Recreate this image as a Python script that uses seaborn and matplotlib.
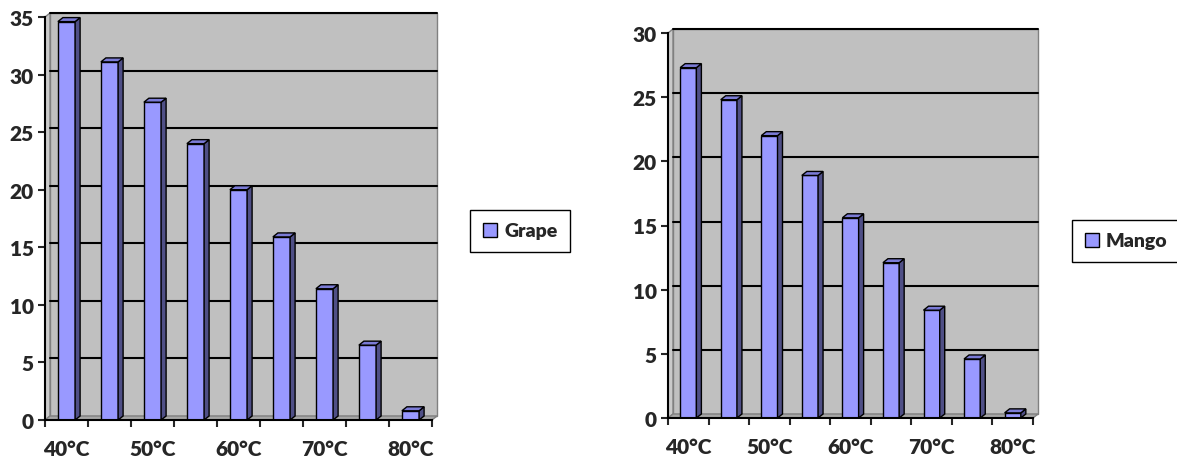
import matplotlib
matplotlib.use("Agg")
import matplotlib.pyplot as plt
import seaborn as sns
from matplotlib.patches import Polygon, Rectangle, Patch

# data
categories = ['40°C', '45°C', '50°C', '55°C', '60°C', '65°C', '70°C', '75°C', '80°C']
tick_labels = ['40°C', '50°C', '60°C', '70°C', '80°C']
grape = [34.6, 31.1, 27.6, 24.0, 20.0, 15.9, 11.4, 6.5, 0.8]
mango = [27.3, 24.8, 22.0, 18.9, 15.6, 12.1, 8.4, 4.6, 0.4]

FRONT = '#9999FF'
SIDE = '#4F4F86'
TOP = '#7B7BD6'
WALL = '#C0C0C0'
FLOOR = '#A6A6A6'

sns.set_style('white')
plt.rcParams['font.family'] = ['Lato', 'DejaVu Sans']
plt.rcParams['font.weight'] = 'heavy'

W, H = 1177, 464
fig = plt.figure(figsize=(W / 100, H / 100), dpi=100)

DX, DY = 5, 4  # depth offset in pixels


def draw_panel(rect, values, name, ymax, legend_pos):
    ax = fig.add_axes(rect)
    ax.set_facecolor('none')
    w_px = rect[2] * W
    h_px = rect[3] * H
    dxa, dya = DX / w_px, DY / h_px

    # back wall, side wall and floor
    ax.add_patch(Rectangle((dxa, dya), 1, 1, transform=ax.transAxes,
                           facecolor=WALL, edgecolor='#808080', lw=1, zorder=0, clip_on=False))
    ax.add_patch(Polygon([(0, 0), (dxa, dya), (dxa, 1 + dya), (0, 1)], closed=True,
                         transform=ax.transAxes, facecolor='#CACACA', edgecolor='#808080',
                         lw=1, zorder=0.5, clip_on=False))
    ax.add_patch(Polygon([(0, 0), (1, 0), (1 + dxa, dya), (dxa, dya)], closed=True,
                         transform=ax.transAxes, facecolor=FLOOR, edgecolor='#808080',
                         lw=1, zorder=0.5, clip_on=False))

    sns.barplot(x=categories, y=values, ax=ax, color=FRONT, edgecolor='black',
                linewidth=1, width=0.4, saturation=1, zorder=3)
    ax.set_xlim(-0.5, len(categories) - 0.5)
    ax.set_ylim(0, ymax)

    # gridlines on the back wall
    for y in range(5, ymax + 1, 5):
        ax.plot([dxa, 1 + dxa], [y / ymax + dya] * 2, color='black', lw=1.5,
                transform=ax.transAxes, zorder=1, clip_on=False)

    # 3D side and top faces of bars
    dxd = dxa * len(categories)
    dyd = dya * ymax
    for p in ax.patches:
        if not isinstance(p, Rectangle) or p.get_facecolor()[:3] != matplotlib.colors.to_rgb(FRONT):
            continue
        x0, hgt, bw = p.get_x(), p.get_height(), p.get_width()
        x1 = x0 + bw
        ax.add_patch(Polygon([(x1, 0), (x1 + dxd, dyd), (x1 + dxd, hgt + dyd), (x1, hgt)],
                             closed=True, facecolor=SIDE, edgecolor='black', lw=1,
                             zorder=3, clip_on=False))
        ax.add_patch(Polygon([(x0, hgt), (x1, hgt), (x1 + dxd, hgt + dyd), (x0 + dxd, hgt + dyd)],
                             closed=True, facecolor=TOP, edgecolor='black', lw=1,
                             zorder=3, clip_on=False))

    for s in ['top', 'right']:
        ax.spines[s].set_visible(False)
    for s in ['left', 'bottom']:
        ax.spines[s].set_color('black')
        ax.spines[s].set_linewidth(1.5)
        ax.spines[s].set_zorder(4)

    ax.set_yticks(range(0, ymax + 1, 5))
    ax.set_xticks([i - 0.5 for i in range(len(categories) + 1)])
    ax.set_xticklabels([])
    ax.set_xticks(range(0, len(categories), 2), minor=True)
    ax.set_xticklabels(tick_labels, minor=True)
    ax.tick_params(axis='x', which='major', direction='out', length=5, width=1.5, bottom=True)
    ax.tick_params(axis='x', which='minor', length=0, pad=14, labelsize=15)
    ax.tick_params(axis='y', direction='out', length=5, width=1.5, left=True, labelsize=15, pad=3)
    for lab in ax.get_xticklabels(minor=True) + ax.get_yticklabels():
        lab.set_fontweight('heavy')
    ax.set_xlabel('')
    ax.set_ylabel('')

    fig.legend(handles=[Patch(facecolor=FRONT, edgecolor='black', label=name)],
               loc='center left', bbox_to_anchor=legend_pos, frameon=True, fancybox=False,
               edgecolor='black', handlelength=0.75, handleheight=0.75,
               handletextpad=0.35, borderpad=0.65, borderaxespad=0, framealpha=1,
               prop={'weight': 'heavy', 'size': 14})
    return ax


draw_panel([45 / W, 43 / H, 387 / W, 403 / H], grape, 'Grape', 35, (470 / W, 232 / H))
draw_panel([668 / W, 45 / H, 365 / W, 385 / H], mango, 'Mango', 30, (1072 / W, 222 / H))

fig.savefig('out.png', dpi=100)
